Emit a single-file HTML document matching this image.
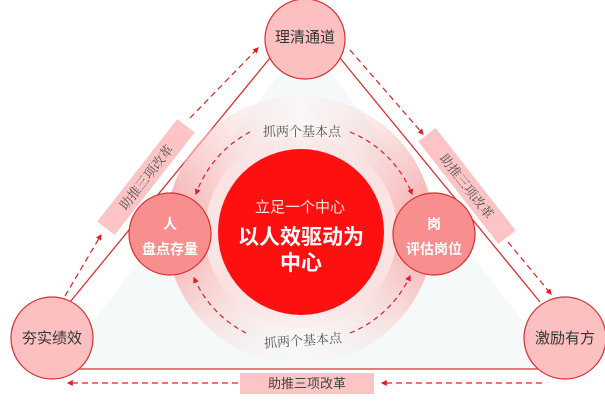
<!DOCTYPE html>
<html><head><meta charset="utf-8"><style>
html,body{margin:0;padding:0;background:#fff;width:605px;height:402px;overflow:hidden}
svg{display:block}
.s{font-family:"Liberation Sans","Noto Sans CJK SC",sans-serif}
.r{font-family:"Liberation Serif","Noto Serif CJK SC",serif}
</style></head><body>
<svg width="605" height="402" viewBox="0 0 605 402" xmlns="http://www.w3.org/2000/svg">
<defs>
<marker id="ar" viewBox="0 0 10 10" refX="8" refY="5" markerWidth="5" markerHeight="5" orient="auto"><path d="M0,0L10,5L0,10z" fill="#e02020"/></marker>
<linearGradient id="ring" x1="0" x2="1" y1="0" y2="0">
<stop offset="0" stop-color="#f6b0b0"/><stop offset="0.3" stop-color="#fbdada"/><stop offset="0.5" stop-color="#fff4f4"/><stop offset="0.7" stop-color="#fbdada"/><stop offset="1" stop-color="#f6b0b0"/></linearGradient>
<linearGradient id="vm" x1="0" x2="0" y1="0" y2="1">
<stop offset="0" stop-color="#fff" stop-opacity="0.35"/><stop offset="0.4" stop-color="#fff" stop-opacity="1"/><stop offset="0.6" stop-color="#fff" stop-opacity="1"/><stop offset="1" stop-color="#fff" stop-opacity="0.1"/></linearGradient>
<mask id="m"><rect x="160" y="95" width="285" height="270" fill="url(#vm)"/></mask>
</defs>
<polygon points="305,40 58,369 560,369" fill="#f5f9f9"/>
<line x1="270" y1="58" x2="70" y2="302" stroke="#d93030" stroke-width="1.3"/>
<line x1="340" y1="58" x2="540" y2="302" stroke="#d93030" stroke-width="1.3"/>
<line x1="70" y1="369" x2="540" y2="369" stroke="#d93030" stroke-width="1.3"/>
<circle cx="300" cy="230" r="134" fill="url(#ring)" mask="url(#m)"/>
<circle cx="301" cy="232" r="96" fill="#fbe4e4" mask="url(#m)"/>
<circle cx="301" cy="232" r="83" fill="#ff1010"/>
<!-- inner dashed arcs -->
<path d="M250,132 A112,112 0 0 0 196,194" fill="none" stroke="#e02020" stroke-width="1.2" stroke-dasharray="5,4" marker-end="url(#ar)"/>
<path d="M350,132 A112,112 0 0 1 412,194" fill="none" stroke="#e02020" stroke-width="1.2" stroke-dasharray="5,4" marker-end="url(#ar)"/>
<path d="M246,333 A112,112 0 0 1 194,278" fill="none" stroke="#e02020" stroke-width="1.2" stroke-dasharray="5,4" marker-end="url(#ar)"/>
<path d="M350,333 A112,112 0 0 0 410,276" fill="none" stroke="#e02020" stroke-width="1.2" stroke-dasharray="5,4" marker-end="url(#ar)"/>
<text x="302" y="136" text-anchor="middle" class="r" font-size="13" fill="#555">抓两个基本点</text>
<text x="303" y="345" text-anchor="middle" class="r" font-size="13" fill="#555" transform="rotate(-4 303 341)">抓两个基本点</text>
<!-- outer dashed arrows -->
<line x1="65" y1="296" x2="101" y2="235" stroke="#e02020" stroke-width="1.2" stroke-dasharray="6,4" marker-end="url(#ar)"/>
<line x1="190" y1="118" x2="258" y2="48" stroke="#e02020" stroke-width="1.2" stroke-dasharray="6,4" marker-end="url(#ar)"/>
<line x1="350" y1="50" x2="423" y2="134" stroke="#e02020" stroke-width="1.2" stroke-dasharray="6,4" marker-end="url(#ar)"/>
<line x1="508" y1="242" x2="551" y2="294" stroke="#e02020" stroke-width="1.2" stroke-dasharray="6,4" marker-end="url(#ar)"/>
<line x1="542" y1="383" x2="382" y2="383" stroke="#e02020" stroke-width="1.2" stroke-dasharray="6,4" marker-end="url(#ar)"/>
<line x1="238" y1="383" x2="68" y2="383" stroke="#e02020" stroke-width="1.2" stroke-dasharray="6,4" marker-end="url(#ar)"/>
<!-- label boxes -->
<g transform="translate(146,177) rotate(-52)">
<rect x="-65" y="-11" width="130" height="22" fill="#fcc4c4"/>
<text x="0" y="5" text-anchor="middle" class="r" font-size="13" fill="#555">助推三项改革</text></g>
<g transform="translate(467,186) rotate(52)">
<rect x="-65" y="-11" width="130" height="22" fill="#fcc4c4"/>
<text x="0" y="5" text-anchor="middle" class="r" font-size="13" fill="#555">助推三项改革</text></g>
<rect x="240" y="373" width="134" height="21" fill="#fcc4c4"/>
<text x="307" y="388" text-anchor="middle" class="s" font-size="13" fill="#444">助推三项改革</text>
<!-- corner circles -->
<circle cx="305" cy="39" r="40" fill="#fdc0c0" stroke="#d93030" stroke-width="1.2"/>
<text x="305" y="42" text-anchor="middle" class="s" font-size="15" fill="#333">理清通道</text>
<circle cx="52" cy="338" r="41" fill="#fdc0c0" stroke="#d93030" stroke-width="1.2"/>
<text x="52" y="343" text-anchor="middle" class="s" font-size="15" fill="#333">夯实绩效</text>
<circle cx="565" cy="338" r="41" fill="#fdc0c0" stroke="#d93030" stroke-width="1.2"/>
<text x="565" y="343" text-anchor="middle" class="s" font-size="15" fill="#333">激励有方</text>
<!-- side circles -->
<circle cx="170" cy="234" r="41" fill="#f98e8e" stroke="#d93030" stroke-width="1.2"/>
<text x="170" y="229" text-anchor="middle" class="s" font-size="14" font-weight="bold" fill="#fff">人</text>
<text x="170" y="254" text-anchor="middle" class="s" font-size="14" font-weight="bold" fill="#fff">盘点存量</text>
<circle cx="434" cy="234" r="41" fill="#f98e8e" stroke="#d93030" stroke-width="1.2"/>
<text x="434" y="229" text-anchor="middle" class="s" font-size="14" font-weight="bold" fill="#fff">岗</text>
<text x="434" y="254" text-anchor="middle" class="s" font-size="14" font-weight="bold" fill="#fff">评估岗位</text>
<!-- center text -->
<text x="300" y="212" text-anchor="middle" class="s" font-size="15" fill="#fde0e0">立足一个中心</text>
<text x="301" y="244" text-anchor="middle" class="s" font-size="21" font-weight="bold" fill="#fff">以人效驱动为</text>
<text x="301" y="270" text-anchor="middle" class="s" font-size="21" font-weight="bold" fill="#fff">中心</text>
</svg>
</body></html>
